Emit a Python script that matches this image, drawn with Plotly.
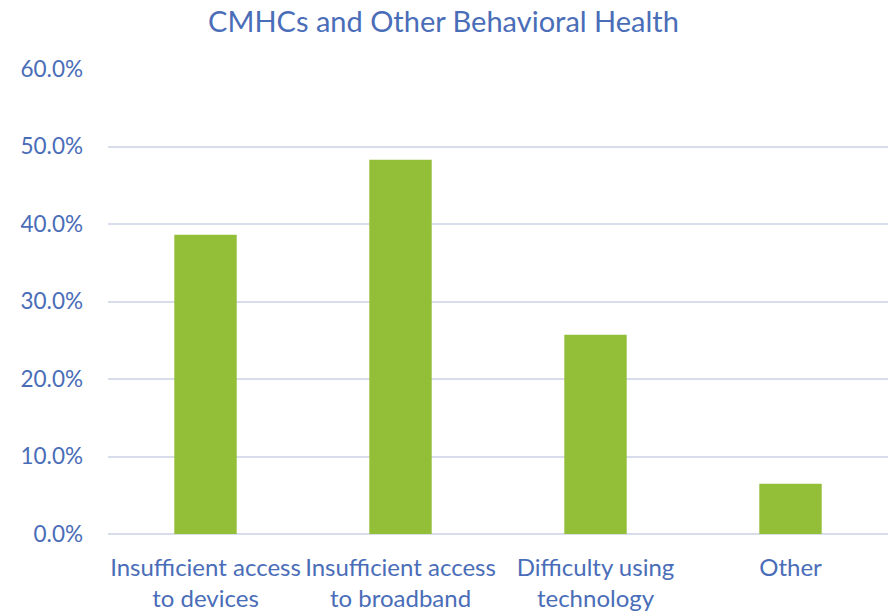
import plotly.graph_objects as go

categories = ["Insufficient access<br>to devices", "Insufficient access<br>to broadband",
              "Difficulty using<br>technology", "Other"]
values = [0.386, 0.483, 0.257, 0.065]
y_ticks = [0, 0.1, 0.2, 0.3, 0.4, 0.5, 0.6]

text_color = "#4A6DB8"
font_family = "Lato, 'Open Sans', sans-serif"

fig = go.Figure(go.Bar(x=categories, y=values, marker=dict(color="#93BE38", line=dict(width=0))))

fig.update_layout(
    width=896, height=616,
    margin=dict(l=108, r=8, t=69, b=82),
    paper_bgcolor="white", plot_bgcolor="white",
    bargap=0.68,
    showlegend=False,
    title=dict(text="CMHCs and Other Behavioral Health", x=0.495, xref="container",
               y=1 - 22 / 616, yanchor="middle", yref="container",
               font=dict(family=font_family, size=29, color=text_color)),
    font=dict(family=font_family, size=22, color=text_color),
)
fig.update_yaxes(range=[0, 0.6], tickvals=y_ticks, tickformat=".1%",
                 showgrid=True, gridcolor="#D7DDEB", gridwidth=1.5,
                 zeroline=True, zerolinecolor="#D7DDEB", zerolinewidth=1.5,
                 showline=False, ticks="", ticklabelstandoff=24, automargin=False,
                 tickfont=dict(size=22.5, color=text_color))
fig.update_xaxes(showgrid=False, showline=False, ticks="", ticklabelstandoff=17,
                 automargin=False,
                 tickfont=dict(size=24, color=text_color))

fig.write_html("out.html")
